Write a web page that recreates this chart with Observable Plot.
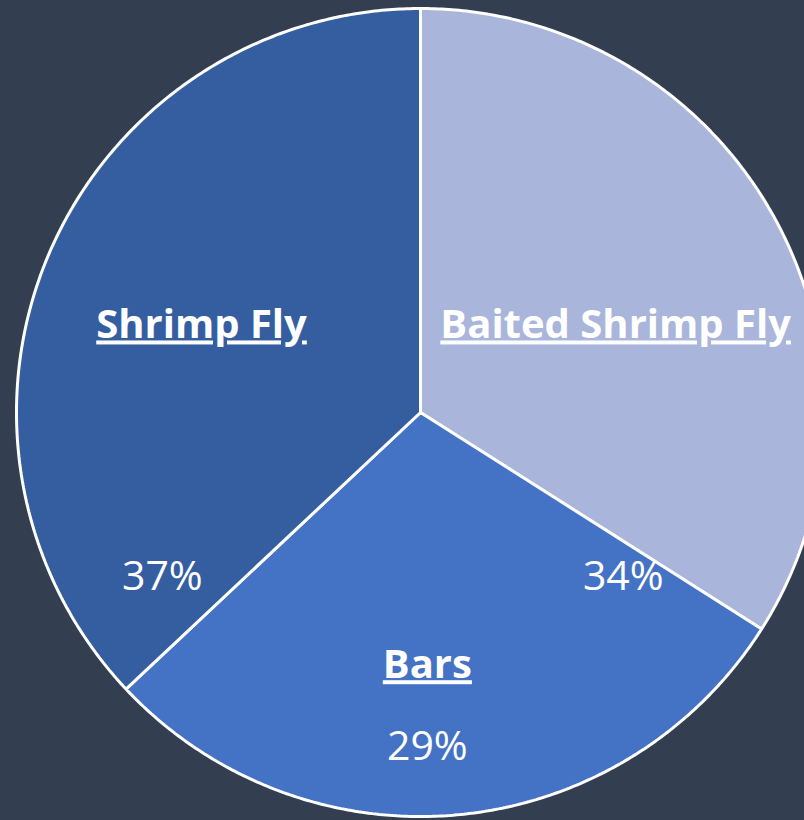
<!DOCTYPE html>
<html>
<head>
<meta charset="utf-8">
<script src="https://cdn.jsdelivr.net/npm/d3@7"></script>
<script src="https://cdn.jsdelivr.net/npm/@observablehq/plot@0.6"></script>
<style>
  html, body { margin: 0; padding: 0; background: #333F50; overflow: hidden; }
  text.uline { text-decoration: underline; text-decoration-thickness: 2px; text-underline-offset: 4px; text-decoration-skip-ink: none; }
</style>
</head>
<body>
<div id="chart"></div>
<script>
// Data
const categories = ["Baited Shrimp Fly", "Bars", "Shrimp Fly"];
const shares = [34, 29, 37];
const sliceColors = ["#A9B5DA", "#4472C4", "#355EA0"];

// Label layout (unit-circle coordinates, y up)
const nameLayout = [[0.483, 0.215], [0.017, -0.626], [-0.542, 0.215]];
const pctLayout = [[0.502, -0.406], [0.017, -0.827], [-0.639, -0.406]];

const rows = categories.map((c, i) => ({name: c, share: shares[i], color: sliceColors[i]}));
const arcs = d3.pie().sort(null).value(d => d.share)(rows);

const pts = [];
arcs.forEach(a => {
  const n = Math.max(2, Math.ceil((a.endAngle - a.startAngle) / (Math.PI / 360)));
  pts.push({name: a.data.name, color: a.data.color, x: 0, y: 0});
  for (let k = 0; k <= n; k++) {
    const t = a.startAngle + (a.endAngle - a.startAngle) * k / n;
    pts.push({name: a.data.name, color: a.data.color, x: Math.sin(t), y: Math.cos(t)});
  }
  pts.push({name: a.data.name, color: a.data.color, x: 0, y: 0});
});

const labels = rows.map((r, i) => ({
  name: r.name, pct: r.share + "%",
  nx: nameLayout[i][0], ny: nameLayout[i][1],
  px: pctLayout[i][0], py: pctLayout[i][1]
}));

const plot = Plot.plot({
  width: 804,
  height: 820,
  margin: 0,
  x: {domain: [-1, 1], range: [16, 824], axis: null},
  y: {domain: [-1, 1], range: [816, 8], axis: null},
  color: {type: "identity"},
  style: {background: "#333F50", overflow: "hidden"},
  marks: [
    Plot.line(pts, {x: "x", y: "y", z: "name", fill: "color", stroke: "white", strokeWidth: 3, strokeLinejoin: "miter", curve: "linear"}),
    Plot.text(labels, {x: "nx", y: "ny", text: "name", fill: "white", fontSize: 40, fontWeight: "bold", fontFamily: "Open Sans"}),
    Plot.text(labels, {x: "px", y: "py", text: "pct", fill: "white", fontSize: 41, fontFamily: "Open Sans"})
  ]
});
d3.select(plot).selectAll("text").filter(function() { return categories.includes(this.textContent); }).classed("uline", true);
document.getElementById("chart").appendChild(plot);
</script>
</body>
</html>
